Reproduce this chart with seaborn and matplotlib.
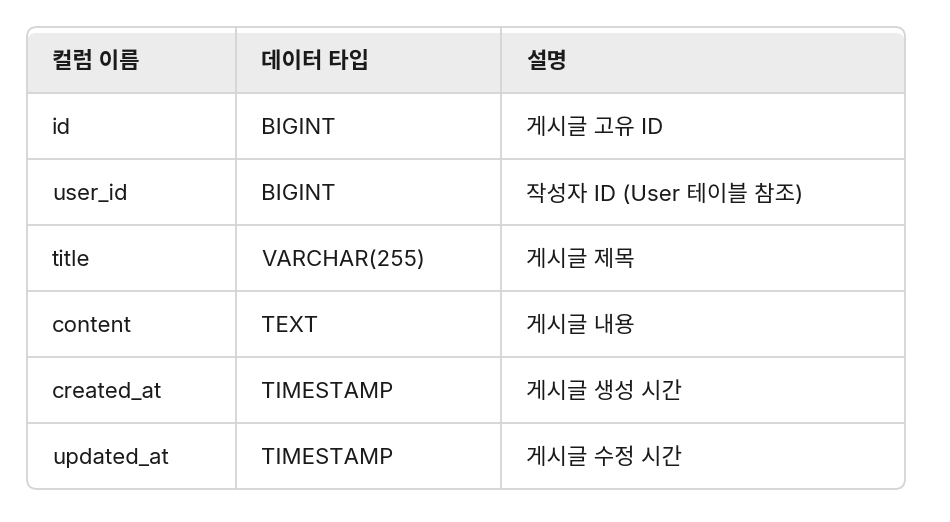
import matplotlib
matplotlib.use('Agg')
import matplotlib.pyplot as plt
from matplotlib.patches import FancyBboxPatch, Rectangle
import seaborn as sns

headers = ['컬럼 이름', '데이터 타입', '설명']
col_names = ['id', 'user_id', 'title', 'content', 'created_at', 'updated_at']
data_types = ['BIGINT', 'BIGINT', 'VARCHAR(255)', 'TEXT', 'TIMESTAMP', 'TIMESTAMP']
descriptions = ['게시글 고유 ID', '작성자 ID (User 테이블 참조)', '게시글 제목',
                '게시글 내용', '게시글 생성 시간', '게시글 수정 시간']

sns.set_theme(style='white')
plt.rcParams['font.family'] = ['Inter', 'Noto Sans CJK KR', 'DejaVu Sans']

fig = plt.figure(figsize=(9.5, 5.22), dpi=100)
ax = fig.add_axes([0, 0, 1, 1])
ax.set_xlim(0, 950)
ax.set_ylim(522, 0)
ax.axis('off')

left, right, top, bottom = 27, 905, 27, 489
col_x = [left, 236, 501, right]
row_h = (bottom - top) / 7
line_c = '#d4d4d4'

# header background, clipped to the rounded outline
outline = FancyBboxPatch((left, top), right - left, bottom - top,
                         boxstyle='round,pad=0,rounding_size=10',
                         facecolor='white', edgecolor=line_c, lw=1.3, zorder=3)
ax.add_patch(FancyBboxPatch((left, top), right - left, bottom - top,
                            boxstyle='round,pad=0,rounding_size=10',
                            facecolor='white', edgecolor='none', zorder=0))
hdr = Rectangle((left, top), right - left, row_h, facecolor='#ececec',
                edgecolor='none', zorder=1)
ax.add_patch(hdr)
hdr.set_clip_path(outline)
outline.set_facecolor('none')
ax.add_patch(outline)

for i in range(1, 7):
    y = top + i * row_h
    ax.plot([left, right], [y, y], color=line_c, lw=1.3, zorder=2)
for x in col_x[1:-1]:
    ax.plot([x, x], [top, bottom], color=line_c, lw=1.3, zorder=2)

pad = 25
dy = 2
for j, h in enumerate(headers):
    ax.text(col_x[j] + pad, top + row_h / 2 + dy, h, fontsize=16, fontweight='semibold',
            va='center', ha='left', color='#1a1a1a')

rows = list(zip(col_names, data_types, descriptions))
for i, row in enumerate(rows):
    yc = top + (i + 1.5) * row_h + dy
    for j, val in enumerate(row):
        ax.text(col_x[j] + pad, yc, val, fontsize=16, va='center', ha='left',
                color='#1a1a1a')

fig.savefig('out.png', dpi=100)
